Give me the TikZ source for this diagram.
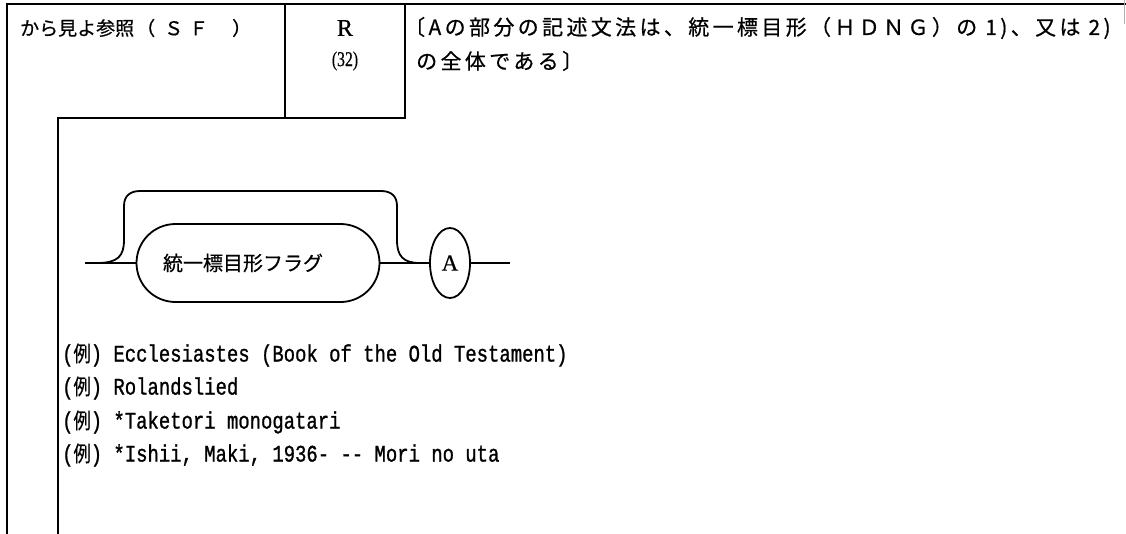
\documentclass[tikz,border=0pt]{standalone}
\usepackage{fontspec}
\usetikzlibrary{shapes.misc,shapes.geometric}
\newfontfamily\jp{Noto Sans CJK JP}[FakeBold=0.6]
\newfontfamily\jpwide{Noto Sans CJK JP}[LetterSpace=16,FakeBold=0.6]
\newfontfamily\mono{Liberation Mono}[FakeBold=1.2]
\newfontfamily\serif{Liberation Serif}[FakeBold=0.6]
\newcommand{\exline}[1]{\scalebox{0.86}[1.08]{{\mono\fontsize{22}{24}\selectfont(}{\jp\fontsize{20}{24}\selectfont 例}{\mono\fontsize{22}{24}\selectfont) #1}}}
\begin{document}
\begin{tikzpicture}[x=1pt,y=-1pt,
  frame/.style={line width=2.6pt,line cap=rect},
  rail/.style={line width=1.8pt},
  jptext/.style={inner sep=0pt,font=\jp\fontsize{19}{22}\selectfont},
  hdtext/.style={inner sep=0pt,anchor=west,font=\jpwide\fontsize{21}{22}\selectfont},
  extext/.style={inner sep=0pt,anchor=west},
  stadium/.style={draw,rail,rounded rectangle,minimum width=243pt,minimum height=78pt,inner sep=0pt},
  term/.style={draw,rail,ellipse,minimum width=40pt,minimum height=70pt,inner sep=0pt}]
\useasboundingbox (0,0) rectangle (1126,533);
% frame
\draw[frame] (7,533) -- (7,4) -- (1126,4);
\draw[frame] (285,4) -- (285,118);
\draw[frame] (405,4) -- (405,118);
\draw[frame] (58,533) -- (58,118) -- (405,118);
\draw[line width=0.6pt,gray!60] (1124,0) -- (1124,24);
% header texts
\node[jptext,anchor=west] (sf) at (20,28) {から見よ参照\hspace{2pt}（\hspace{9pt}Ｓ\hspace{6pt}Ｆ\hspace{24pt}）};
\node[inner sep=0pt,font=\serif\fontsize{24}{26}\selectfont] (r) at (345,28) {R};
\node[inner sep=0pt,font=\serif\fontsize{21}{22}\selectfont] (num) at (345,61) {\scalebox{0.75}[1]{(32)}};
\node[hdtext] (note1) at (404,28) {〔Aの部分の記述文法は、統一標目形（ＨＤＮＧ）の 1)、又は 2)};
\node[hdtext] (note2) at (416,61) {の全体である〕};
% syntax diagram
\node[stadium,font=\jp\fontsize{20}{22}\selectfont] (flag) at (258,263) {統一標目形フラグ\hspace*{30pt}};
\node[term,font=\serif\fontsize{23}{24}\selectfont] (a) at (450,263) {A};
\coordinate (in) at (85,263);
\coordinate (out) at (510,263);
\coordinate (lj) at (97,263);
\coordinate (rj) at (420,263);
\draw[rail] (in) -- (flag.west);
\draw[rail] (flag.east) -- (a.west);
\draw[rail] (a.east) -- (out);
\draw[rail] (lj) .. controls (118,263) and (124,256) .. (124,240) -- (124,206)
  .. controls (124,196) and (130,191) .. (140,191) -- (381,191)
  .. controls (391,191) and (397,196) .. (397,206) -- (397,240)
  .. controls (397,256) and (403,263) .. (rj);
% examples
\node[extext] (ex1) at (62,355) {\exline{Ecclesiastes (Book of the Old Testament)}};
\node[extext] (ex2) at (62,388) {\exline{Rolandslied}};
\node[extext] (ex3) at (62,422) {\exline{*Taketori monogatari}};
\node[extext] (ex4) at (62,455) {\exline{*Ishii, Maki, 1936- -- Mori no uta}};
\end{tikzpicture}
\end{document}
